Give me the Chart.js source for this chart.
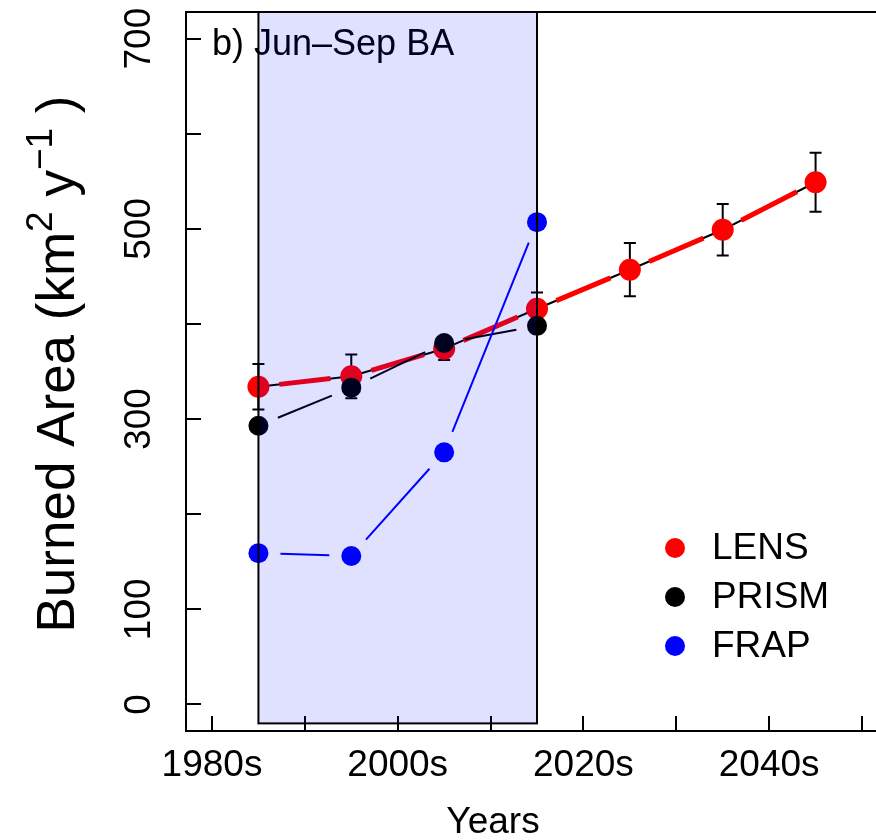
<!DOCTYPE html>
<html>
<head>
<meta charset="utf-8">
<script src="https://cdn.jsdelivr.net/npm/chart.js@4.4.1/dist/chart.umd.min.js"></script>
<style>
html, body { margin: 0; padding: 0; overflow: hidden; background: #fff; }
#wrap { width: 900px; height: 840px; }
</style>
</head>
<body>
<div id="wrap"><canvas id="myChart" width="900" height="840"></canvas></div>
<script>
// decade mid-points and burned area (km2 / y), Jun-Sep
const decades = [1985, 1995, 2005, 2015, 2025, 2035, 2045];
const lensBA = [334, 345, 374, 416, 457, 499, 549];
const lensErr = [24, 23, 12, 17, 28, 27, 31];
const obsDecades = [1985, 1995, 2005, 2015];
const prismBA = [293, 333, 380, 398];
const frapBA = [159, 156, 265, 507];

const xTicks = [1980, 1990, 2000, 2010, 2020, 2030, 2040, 2050];
const xTickLabels = ['1980s', '', '2000s', '', '2020s', '', '2040s', ''];
const yTicks = [0, 100, 200, 300, 400, 500, 600, 700];
const yTickLabels = ['0', '100', '', '300', '', '500', '', '700'];
const refPeriod = [1985, 2015];

const FONT = "'Liberation Sans', Arial, Helvetica, sans-serif";

function toXY(xs, ys) {
  return xs.map((x, i) => ({ x: x, y: ys[i] }));
}

// line through the points, optionally cut short near each point (R type="b")
function strokeLinks(ctx, pts, gap, color, width) {
  ctx.strokeStyle = color;
  ctx.lineWidth = width;
  ctx.beginPath();
  for (let i = 0; i < pts.length - 1; i++) {
    const a = pts[i], b = pts[i + 1];
    const dx = b.x - a.x, dy = b.y - a.y;
    const d = Math.sqrt(dx * dx + dy * dy);
    if (d <= 2 * gap) continue;
    const ux = dx / d, uy = dy / d;
    ctx.moveTo(a.x + ux * gap, a.y + uy * gap);
    ctx.lineTo(b.x - ux * gap, b.y - uy * gap);
  }
  ctx.stroke();
}

function drawSuperText(ctx, parts, cx, cy) {
  let total = 0;
  parts.forEach(p => {
    ctx.font = p.size + 'px ' + FONT;
    p.w = ctx.measureText(p.text).width;
    total += p.w;
  });
  ctx.save();
  ctx.translate(cx, cy);
  ctx.rotate(-Math.PI / 2);
  ctx.textAlign = 'left';
  ctx.textBaseline = 'alphabetic';
  let x = -total / 2;
  parts.forEach(p => {
    ctx.font = p.size + 'px ' + FONT;
    ctx.fillText(p.text, x, p.rise);
    x += p.w;
  });
  ctx.restore();
}

function fixBox(scale, w, h) {
  if (w) scale.width = w;
  if (h) scale.height = h;
  scale.paddingTop = 0;
  scale.paddingBottom = 0;
  scale.paddingLeft = 0;
  scale.paddingRight = 0;
}

const figurePlugin = {
  id: 'figure',
  beforeDatasetDraw(chart, args) {
    const ds = chart.data.datasets[args.index];
    const pts = args.meta.data;
    const ctx = chart.ctx;
    const y = chart.scales.y;
    ctx.save();
    if (ds.fullLine) strokeLinks(ctx, pts, 0, ds.fullLine.color, ds.fullLine.width);
    if (ds.gapLine) strokeLinks(ctx, pts, ds.gapLine.gap, ds.gapLine.color, ds.gapLine.width);
    if (ds.errors) {
      ctx.strokeStyle = '#000';
      ctx.lineWidth = 2;
      ctx.beginPath();
      ds.data.forEach((d, i) => {
        const px = pts[i].x;
        const top = y.getPixelForValue(d.y + ds.errors[i]);
        const bot = y.getPixelForValue(d.y - ds.errors[i]);
        ctx.moveTo(px, top); ctx.lineTo(px, bot);
        ctx.moveTo(px - 6, top); ctx.lineTo(px + 6, top);
        ctx.moveTo(px - 6, bot); ctx.lineTo(px + 6, bot);
      });
      ctx.stroke();
    }
    ctx.restore();
  },
  afterDatasetsDraw(chart) {
    const ctx = chart.ctx;
    const area = chart.chartArea;
    ctx.save();
    // top edge of the box
    ctx.strokeStyle = '#000';
    ctx.lineWidth = 2;
    ctx.beginPath();
    ctx.moveTo(area.left - 1, area.top);
    ctx.lineTo(area.right, area.top);
    ctx.stroke();

    ctx.fillStyle = '#000';
    ctx.font = '36px ' + FONT;
    ctx.textAlign = 'left';
    ctx.textBaseline = 'alphabetic';
    ctx.fillText('b) Jun\u2013Sep BA', 212, 55);

    // legend
    const rows = [548, 597, 646];
    chart.data.datasets.forEach((ds, i) => {
      ctx.fillStyle = ds.pointBackgroundColor;
      ctx.beginPath();
      ctx.arc(675, rows[i], 10, 0, Math.PI * 2);
      ctx.fill();
      ctx.fillStyle = '#000';
      ctx.font = '37px ' + FONT;
      ctx.textBaseline = 'middle';
      ctx.fillText(ds.label, 712, rows[i] + 1);
    });

    ctx.textAlign = 'center';
    ctx.textBaseline = 'alphabetic';
    ctx.font = '37px ' + FONT;
    ctx.fillText('Years', 493, 833);

    const F = 53, S = 37;
    drawSuperText(ctx, [
      { text: 'Burned Area (km', size: F, rise: 0 },
      { text: '2', size: S, rise: -22 },
      { text: ' y', size: F, rise: 0 },
      { text: '\u22121', size: S, rise: -22 },
      { text: ' )', size: F, rise: 0 }
    ], 74, 364);
    ctx.restore();
  },
  afterDraw(chart) {
    // shaded 1985-2015 period, drawn over everything like the original
    const ctx = chart.ctx;
    const x = chart.scales.x, y = chart.scales.y;
    const x0 = x.getPixelForValue(refPeriod[0]);
    const x1 = x.getPixelForValue(refPeriod[1]);
    const y0 = y.getPixelForValue(-20);
    const y1 = chart.chartArea.top;
    ctx.save();
    ctx.fillStyle = 'rgba(0, 0, 255, 0.12)';
    ctx.fillRect(x0, y1, x1 - x0, y0 - y1);
    ctx.strokeStyle = '#000';
    ctx.lineWidth = 2;
    ctx.strokeRect(x0, y1, x1 - x0, y0 - y1);
    ctx.restore();
  }
};

const ctx = document.getElementById('myChart');

new Chart(ctx, {
  type: 'scatter',
  data: {
    datasets: [
      {
        label: 'LENS',
        data: toXY(decades, lensBA),
        errors: lensErr,
        fullLine: { color: '#000', width: 2 },
        gapLine: { color: '#FF0000', width: 5, gap: 21 },
        pointRadius: 11,
        pointHoverRadius: 11,
        pointBackgroundColor: '#FF0000',
        pointBorderWidth: 0,
        order: 3
      },
      {
        label: 'PRISM',
        data: toXY(obsDecades, prismBA),
        gapLine: { color: '#000', width: 2, gap: 21 },
        pointRadius: 10,
        pointHoverRadius: 10,
        pointBackgroundColor: '#000',
        pointBorderWidth: 0,
        order: 2
      },
      {
        label: 'FRAP',
        data: toXY(obsDecades, frapBA),
        gapLine: { color: '#0000FF', width: 2, gap: 22 },
        pointRadius: 10,
        pointHoverRadius: 10,
        pointBackgroundColor: '#0000FF',
        pointBorderWidth: 0,
        order: 1
      }
    ]
  },
  options: {
    responsive: false,
    animation: false,
    layout: { padding: { top: 12, right: 12, left: 0, bottom: 0 } },
    plugins: {
      legend: { display: false },
      tooltip: { enabled: false }
    },
    scales: {
      x: {
        type: 'linear',
        min: 1977.2,
        max: 2052.8,
        afterBuildTicks: scale => { scale.ticks = xTicks.map(v => ({ value: v })); },
        afterFit: scale => fixBox(scale, 0, 109),
        border: { display: true, color: '#000', width: 2 },
        grid: { drawOnChartArea: false, drawTicks: true, tickLength: -15, color: '#000', lineWidth: 2 },
        ticks: {
          autoSkip: false,
          maxRotation: 0,
          minRotation: 0,
          padding: 28,
          color: '#000',
          font: { family: FONT, size: 37 },
          callback: (v, i) => xTickLabels[i]
        }
      },
      y: {
        type: 'linear',
        min: -28,
        max: 728,
        afterBuildTicks: scale => { scale.ticks = yTicks.map(v => ({ value: v })); },
        afterFit: scale => fixBox(scale, 186, 0),
        border: { display: true, color: '#000', width: 2 },
        grid: { drawOnChartArea: false, drawTicks: true, tickLength: -15, color: '#000', lineWidth: 2 },
        ticks: {
          autoSkip: false,
          minRotation: 90,
          maxRotation: 90,
          crossAlign: 'center',
          padding: 30,
          color: '#000',
          font: { family: FONT, size: 37 },
          callback: (v, i) => yTickLabels[i]
        }
      }
    }
  },
  plugins: [figurePlugin]
});
</script>
</body>
</html>
